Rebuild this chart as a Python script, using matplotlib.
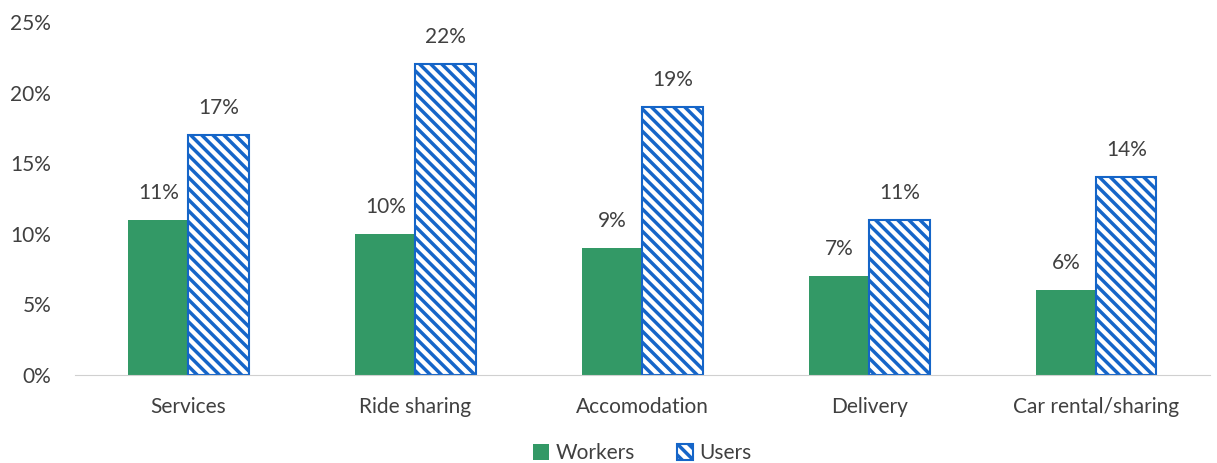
import matplotlib.pyplot as plt
import numpy as np

plt.rcParams['font.family'] = ['Lato', 'DejaVu Sans']
plt.rcParams['hatch.linewidth'] = 2.5
plt.rcParams['hatch.color'] = '#1565C8'

categories = ['Services', 'Ride sharing', 'Accomodation', 'Delivery', 'Car rental/sharing']
workers = [11, 10, 9, 7, 6]
users = [17, 22, 19, 11, 14]

green = '#339966'
blue = '#1565C8'
text_col = '#404040'
fs = 15

fig = plt.figure(figsize=(12.17, 4.63), dpi=100)
ax = fig.add_axes([0.0616, 0.19, 0.9325, 0.7625])

x = np.arange(len(categories))
w = 0.265
b1 = ax.bar(x - w/2, workers, w, color=green, label='Workers')
b2 = ax.bar(x + w/2, users, w, facecolor='white', edgecolor=blue, hatch='\\\\\\', linewidth=1.5, label='Users')

for rect, v in zip(b1, workers):
    ax.text(rect.get_x() + rect.get_width()/2, v + 1.2, f'{v}%', ha='center', va='bottom', fontsize=fs, color=text_col)
for rect, v in zip(b2, users):
    ax.text(rect.get_x() + rect.get_width()/2, v + 1.2, f'{v}%', ha='center', va='bottom', fontsize=fs, color=text_col)

ax.set_xlim(-0.5, len(categories) - 0.5)
ax.set_ylim(0, 25)
ax.set_yticks(range(0, 26, 5))
ax.set_yticklabels([f'{t}%' for t in range(0, 26, 5)])
ax.set_xticks(x)
ax.set_xticklabels(categories)
ax.tick_params(axis='both', length=0, labelsize=fs, labelcolor=text_col)
ax.tick_params(axis='x', pad=16)
ax.tick_params(axis='y', pad=17)
for s in ['top', 'right', 'left']:
    ax.spines[s].set_visible(False)
ax.spines['bottom'].set_color('#d0d0d0')

ax.legend(loc='upper center', bbox_to_anchor=(0.5, -0.14), ncol=2, frameon=False,
          fontsize=fs, labelcolor=text_col, handlelength=0.8, handleheight=0.8,
          handletextpad=0.3, columnspacing=2.0)

fig.savefig('out.png', dpi=100)
